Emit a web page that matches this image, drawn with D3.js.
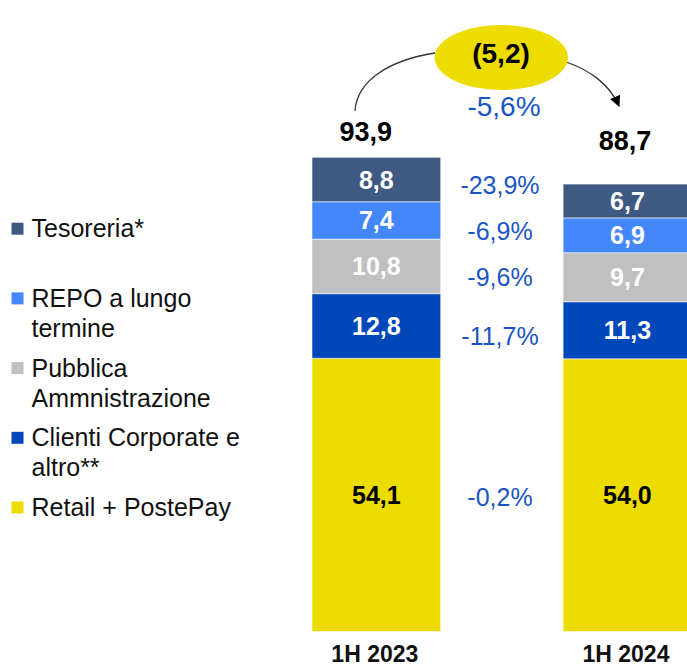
<!DOCTYPE html>
<html>
<head>
<meta charset="utf-8">
<script src="https://cdn.jsdelivr.net/npm/d3@7"></script>
<style>
  html, body { margin: 0; padding: 0; background: #fff; }
  svg { display: block; font-family: "Liberation Sans", Arial, sans-serif; }
</style>
</head>
<body>
<svg id="chart" width="687" height="664"></svg>
<script>
// Periods (x categories)
const periods = ["1H 2023", "1H 2024"];

// Stack series, bottom to top
const seriesNames = ["Retail + PostePay", "Clienti Corporate e altro**", "Pubblica Ammnistrazione", "REPO a lungo termine", "Tesoreria*"];
const retail    = [54.1, 54.0];
const corporate = [12.8, 11.3];
const pa        = [10.8, 9.7];
const repo      = [7.4, 6.9];
const tesoreria = [8.8, 6.7];
const totals    = [93.9, 88.7];

// Year-on-year change per series (bottom to top) and overall
const changeLabels = ["-0,2%", "-11,7%", "-9,6%", "-6,9%", "-23,9%"];
const totalChange = "-5,6%";
const deltaLabel = "(5,2)";

// Legend text lines (top to bottom)
const legendLines = [
  ["Tesoreria*", ""],
  ["REPO a lungo", "termine"],
  ["Pubblica", "Ammnistrazione"],
  ["Clienti Corporate e", "altro**"],
  ["Retail + PostePay"]
];

const colors = ["#eddc00", "#0047ba", "#c0c0c0", "#4387fa", "#3e5a82"];
const blueText = "#1b55c4";
const fmt = v => d3.format(".1f")(v).replace(".", ",");

const svg = d3.select("#chart");

const table = periods.map((p, i) => ({
  period: p,
  "Retail + PostePay": retail[i],
  "Clienti Corporate e altro**": corporate[i],
  "Pubblica Ammnistrazione": pa[i],
  "REPO a lungo termine": repo[i],
  "Tesoreria*": tesoreria[i]
}));
const stacked = d3.stack().keys(seriesNames)(table);

const x = d3.scaleBand().domain(periods).range([312, 691.8]).paddingInner(0.4875).paddingOuter(0);
const y = d3.scaleLinear().domain([0, 93.9]).range([631.5, 157.3]);

// Bars
const layers = svg.append("g").selectAll("g").data(stacked).join("g")
  .attr("fill", (d, i) => colors[i]);
layers.selectAll("rect").data(d => d).join("rect")
  .attr("x", d => x(d.data.period))
  .attr("width", x.bandwidth())
  .attr("y", d => y(d[1]))
  .attr("height", d => y(d[0]) - y(d[1]))
  .attr("stroke", "#ffffff")
  .attr("stroke-opacity", 0.55)
  .attr("stroke-width", 1);

// Segment value labels
layers.selectAll("text").data(d => d).join("text")
  .attr("x", d => x(d.data.period) + x.bandwidth() / 2)
  .attr("y", d => (y(d[0]) + y(d[1])) / 2)
  .attr("dy", "0.36em")
  .attr("text-anchor", "middle")
  .attr("font-weight", "bold")
  .attr("font-size", 25)
  .attr("fill", "#ffffff")
  .attr("fill", function(d) { return d3.select(this.parentNode).datum().index === 0 ? "#000" : "#fff"; })
  .text(d => fmt(d[1] - d[0]));

// Totals above bars
const totalNudge = [{ dx: -10.5, dy: -16.6 }, { dx: -2.4, dy: -34 }];
svg.append("g").selectAll("text").data(totals).join("text")
  .attr("x", (d, i) => x(periods[i]) + x.bandwidth() / 2 + totalNudge[i].dx)
  .attr("y", (d, i) => y(d) + totalNudge[i].dy)
  .attr("text-anchor", "middle")
  .attr("font-weight", "bold")
  .attr("font-size", 27)
  .attr("fill", "#000")
  .text(d => fmt(d));

// Category axis labels
svg.append("g").selectAll("text").data(periods).join("text")
  .attr("x", d => x(d) + x.bandwidth() / 2 - 1.5)
  .attr("y", 661.7)
  .attr("text-anchor", "middle")
  .attr("font-weight", "bold")
  .attr("font-size", 23)
  .attr("fill", "#111")
  .text(d => d);

// Change labels between the bars
const changeNudge = [2, 7.5, 5, 3, -5];
const midX = 500;
svg.append("g").selectAll("text").data(stacked).join("text")
  .attr("x", midX)
  .attr("y", (s, i) => {
    const m0 = (y(s[0][0]) + y(s[0][1])) / 2;
    const m1 = (y(s[1][0]) + y(s[1][1])) / 2;
    return (m0 + m1) / 2 + changeNudge[i];
  })
  .attr("dy", "0.36em")
  .attr("text-anchor", "middle")
  .attr("font-size", 25)
  .attr("fill", blueText)
  .text((s, i) => changeLabels[i]);

// Overall change bubble
const defs = svg.append("defs");
defs.append("marker")
  .attr("id", "arrow")
  .attr("viewBox", "0 0 10 10")
  .attr("refX", 9).attr("refY", 5)
  .attr("markerWidth", 11).attr("markerHeight", 11)
  .attr("markerUnits", "userSpaceOnUse")
  .attr("orient", "auto")
  .append("path").attr("d", "M0,0 L10,5 L0,10 z").attr("fill", "#000");

svg.append("path")
  .attr("d", "M355,111 C357,80 390,60 435,53")
  .attr("fill", "none").attr("stroke", "#333").attr("stroke-width", 1.3);
svg.append("path")
  .attr("d", "M566,62 C590,70 610,85 619,106")
  .attr("fill", "none").attr("stroke", "#333").attr("stroke-width", 1.3)
  .attr("marker-end", "url(#arrow)");

svg.append("ellipse")
  .attr("cx", 501.3).attr("cy", 57.5)
  .attr("rx", 66.7).attr("ry", 32.5)
  .attr("fill", colors[0]);
svg.append("text")
  .attr("x", 501).attr("y", 63.3)
  .attr("text-anchor", "middle")
  .attr("font-weight", "bold").attr("font-size", 28)
  .attr("fill", "#000")
  .text(deltaLabel);
svg.append("text")
  .attr("x", 504).attr("y", 116)
  .attr("text-anchor", "middle")
  .attr("font-size", 28)
  .attr("fill", blueText)
  .text(totalChange);

// Legend
const legendColors = colors.slice().reverse();
const legend = svg.append("g").selectAll("g").data(legendLines).join("g")
  .attr("transform", (d, i) => `translate(0, ${237.3 + i * 69.7})`);
legend.append("rect")
  .attr("x", 11.5).attr("y", -14.6)
  .attr("width", 12).attr("height", 12)
  .attr("fill", (d, i) => legendColors[i]);
legend.append("text")
  .attr("x", 31.5)
  .attr("font-size", 25)
  .attr("fill", "#111")
  .selectAll("tspan").data(d => d).join("tspan")
  .attr("x", 31.5)
  .attr("y", (d, j) => j * 30)
  .text(d => d);
</script>
</body>
</html>
